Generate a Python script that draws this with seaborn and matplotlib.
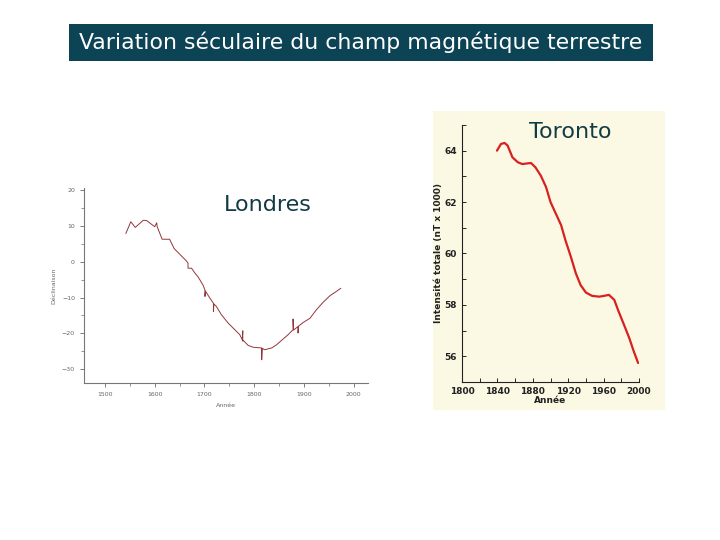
import matplotlib
matplotlib.use("Agg")
import matplotlib.pyplot as plt
import seaborn as sns
import pandas as pd

# Londres : declinaison (degres)
lon_years = [1542, 1552, 1561, 1577, 1584, 1600, 1604, 1605, 1615, 1630, 1639, 1654, 1664,
             1667, 1667, 1674, 1681, 1687, 1691, 1697, 1701, 1701, 1702, 1711, 1718, 1718,
             1719, 1724, 1734, 1748, 1761, 1771, 1776, 1777, 1777, 1778, 1788, 1798, 1815,
             1815, 1816, 1821, 1835, 1845, 1858, 1868, 1878, 1878, 1879, 1888, 1888, 1889,
             1898, 1912, 1925, 1938, 1952, 1965, 1974]
lon_decl = [7.9, 11.2, 9.6, 11.6, 11.5, 9.8, 10.9, 9.8, 6.3, 6.3, 3.7, 1.6, 0.2,
            -0.4, -1.8, -1.8, -3.2, -4.2, -5.1, -6.5, -7.9, -9.7, -8.2, -10.2, -11.6, -13.9,
            -11.8, -12.5, -14.8, -17.2, -19.0, -20.4, -21.8, -19.3, -22.2, -22.0, -23.4, -23.9, -24.1,
            -27.4, -24.2, -24.6, -24.1, -23.2, -21.6, -20.4, -19.0, -16.0, -19.1, -18.1, -19.9, -18.0,
            -17.0, -15.8, -13.4, -11.4, -9.5, -8.3, -7.4]

# Toronto : intensite totale (nT x 1000)
tor_years = [1839.5, 1844, 1848, 1851.5, 1857, 1863, 1868, 1878, 1883, 1889, 1895, 1900,
             1906, 1912, 1917, 1923, 1928.6, 1934, 1940, 1947, 1955, 1960.5, 1966, 1972,
             1977, 1983, 1989, 1994, 1999]
tor_int = [64.0, 64.26, 64.3, 64.2, 63.74, 63.55, 63.48, 63.52, 63.35, 63.03, 62.58, 62.0,
           61.55, 61.1, 60.5, 59.87, 59.23, 58.77, 58.48, 58.35, 58.32, 58.35, 58.39, 58.2,
           57.74, 57.23, 56.71, 56.2, 55.74]

sns.set_style("ticks")
plt.rcParams['font.family'] = ['DejaVu Sans']

fig = plt.figure(figsize=(7.2, 5.4), dpi=100)
fig.patch.set_facecolor("white")

# bandeau titre
title_ax = fig.add_axes([0.0958, 0.887, 0.811, 0.0685], zorder=0)
title_ax.set_facecolor("#0D4455")
title_ax.set_xticks([])
title_ax.set_yticks([])
for s in title_ax.spines.values():
    s.set_visible(False)
title_ax.text(0.5, 0.5, "Variation séculaire du champ magnétique terrestre", color="white",
              fontsize=15.8, ha="center", va="center", transform=title_ax.transAxes)

# --- Londres
ax1 = fig.add_axes([0.1167, 0.2907, 0.394, 0.361])
df1 = pd.DataFrame({"Année": lon_years, "Déclinaison": lon_decl})
sns.lineplot(data=df1, x="Année", y="Déclinaison", ax=ax1, estimator=None, sort=False,
             color="#93363A", linewidth=0.7)
ax1.set_xlim(1458, 2028)
ax1.set_ylim(-33.9, 20.6)
ax1.set_xticks([1500, 1600, 1700, 1800, 1900, 2000])
ax1.set_xticks([1550, 1650, 1750, 1850, 1950], minor=True)
ax1.set_yticks([20, 10, 0, -10, -20, -30])
ax1.set_yticks([15, 5, -5, -15, -25], minor=True)
ax1.tick_params(labelsize=4.5, colors="#666666", length=3, width=0.6)
ax1.tick_params(which="minor", length=2, width=0.5, colors="#666666")
for s in ["left", "bottom"]:
    ax1.spines[s].set_color("#777777")
    ax1.spines[s].set_linewidth(0.8)
sns.despine(ax=ax1)
ax1.set_xlabel("Année", fontsize=4.5, color="#666666")
ax1.set_ylabel("Déclinaison", fontsize=4.5, color="#666666")
fig.text(0.372, 0.620, "Londres", fontsize=16, color="#123C44", ha="center", va="center")

# --- Toronto
bg = fig.add_axes([433 / 720, 1 - 410 / 540, 232 / 720, 299 / 540], zorder=0)
bg.set_facecolor("#FBF9E4")
bg.set_xticks([])
bg.set_yticks([])
for s in bg.spines.values():
    s.set_visible(False)

ax2 = fig.add_axes([0.6417, 0.2926, 0.2458, 0.476], zorder=1)
ax2.patch.set_alpha(0)
df2 = pd.DataFrame({"Année": tor_years, "Intensité": tor_int})
sns.lineplot(data=df2, x="Année", y="Intensité", ax=ax2, color="#D9201E", linewidth=1.6)
ax2.set_xlim(1800, 2000)
ax2.set_ylim(55, 65)
ax2.set_xticks([1800, 1840, 1880, 1920, 1960, 2000])
ax2.set_xticks([1820, 1860, 1900, 1940, 1980], minor=True)
ax2.set_yticks([56, 58, 60, 62, 64])
ax2.set_yticks([55, 57, 59, 61, 63, 65], minor=True)
ax2.tick_params(direction="in", labelsize=6.5, colors="#222222", length=3, width=0.7)
ax2.tick_params(which="minor", direction="in", length=3, width=0.7)
for lab in ax2.get_xticklabels() + ax2.get_yticklabels():
    lab.set_fontweight("bold")
sns.despine(ax=ax2)
ax2.spines["left"].set_color("#222222")
ax2.spines["bottom"].set_color("#222222")
ax2.set_xlabel("Année", fontsize=6.5, fontweight="bold", color="#222222", labelpad=0)
ax2.set_ylabel("Intensité totale (nT x 1000)", fontsize=6.5, fontweight="bold",
               color="#222222", labelpad=1)
fig.text(0.792, 0.756, "Toronto", fontsize=16, color="#123C44", ha="center", va="center",
         zorder=5)

fig.savefig("out.png", dpi=100)
